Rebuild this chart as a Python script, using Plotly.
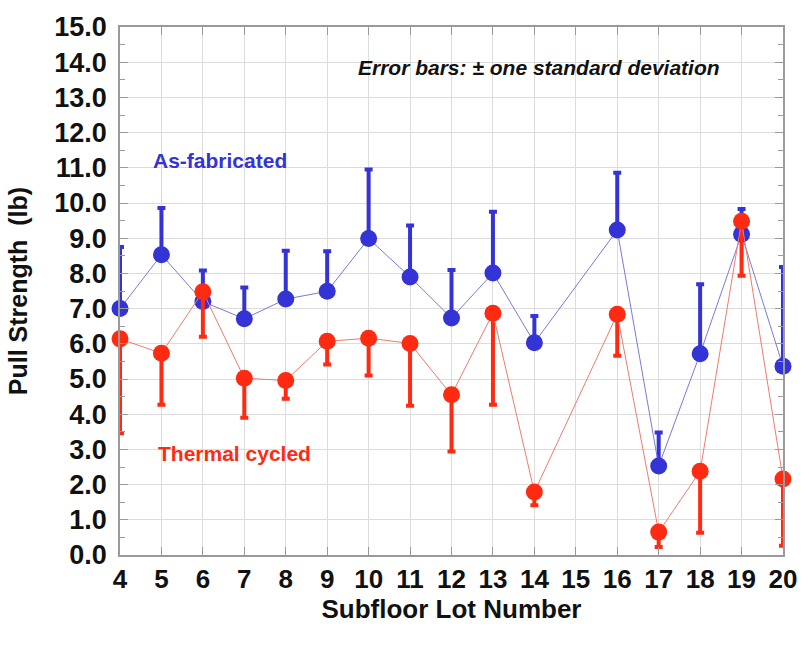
import plotly.graph_objects as go

# Subfloor lots tested (no samples for lot 15)
lots = [4, 5, 6, 7, 8, 9, 10, 11, 12, 13, 14, 16, 17, 18, 19, 20]

# Mean pull strength (lb) and one standard deviation
as_fab_mean = [7.00, 8.53, 7.20, 6.71, 7.27, 7.49, 8.99, 7.90, 6.73, 8.01, 6.03, 9.23, 2.53, 5.72, 9.11, 5.36]
as_fab_sd = [1.75, 1.33, 0.88, 0.89, 1.37, 1.14, 1.96, 1.46, 1.37, 1.74, 0.76, 1.63, 0.95, 1.97, 0.72, 2.82]

thermal_mean = [6.14, 5.73, 7.48, 5.02, 4.96, 6.07, 6.16, 6.01, 4.55, 6.87, 1.79, 6.84, 0.65, 2.38, 9.48, 2.16]
thermal_sd = [2.68, 1.46, 1.28, 1.12, 0.52, 0.66, 1.06, 1.77, 1.61, 2.60, 0.38, 1.18, 0.42, 1.75, 1.55, 1.90]

y_ticks = [i for i in range(0, 16)]
y_tick_text = [f"{v:.1f}" for v in y_ticks]
x_ticks = list(range(4, 21))

BLUE = "#3434d6"
BLUE_LINE = "#7a7ad6"
RED = "#ff2a12"
RED_LINE = "#f07a6e"
FONT = "Liberation Sans, Arial, sans-serif"

fig = go.Figure()

# As-fabricated: error bar drawn upward only
fig.add_trace(go.Scatter(
    x=lots, y=as_fab_mean, mode="lines+markers",
    line=dict(color=BLUE_LINE, width=1),
    marker=dict(color=BLUE, size=17),
    error_y=dict(type="data", symmetric=False, array=as_fab_sd,
                 arrayminus=[0] * len(lots), color=BLUE, thickness=4, width=4),
    cliponaxis=False, showlegend=False,
))

# Thermal cycled: error bar drawn downward only
fig.add_trace(go.Scatter(
    x=lots, y=thermal_mean, mode="lines+markers",
    line=dict(color=RED_LINE, width=1),
    marker=dict(color=RED, size=17),
    error_y=dict(type="data", symmetric=False, array=[0] * len(lots),
                 arrayminus=thermal_sd, color=RED, thickness=4, width=4),
    cliponaxis=False, showlegend=False,
))

fig.add_annotation(x=4.76, y=11.2, xref="x", yref="y", text="<b>As-fabricated</b>",
                   showarrow=False, xanchor="left", yanchor="middle",
                   font=dict(family=FONT, size=21, color=BLUE))
fig.add_annotation(x=4.88, y=2.88, xref="x", yref="y", text="<b>Thermal cycled</b>",
                   showarrow=False, xanchor="left", yanchor="middle",
                   font=dict(family=FONT, size=21, color=RED))
fig.add_annotation(x=14.12, y=13.85, xref="x", yref="y",
                   text="<b><i>Error bars: ± one standard deviation</i></b>",
                   showarrow=False, xanchor="center", yanchor="middle",
                   font=dict(family=FONT, size=21, color="#111111"))

fig.update_layout(
    width=809, height=646,
    margin=dict(l=120, r=16, t=20, b=91),
    paper_bgcolor="white", plot_bgcolor="white",
    font=dict(family=FONT, color="#111111"),
)

fig.update_xaxes(
    range=[4, 20], tickvals=x_ticks, ticktext=[str(v) for v in x_ticks],
    tickfont=dict(family=FONT, size=26, color="#111111", weight="bold"),
    showgrid=True, gridcolor="#dcdcdc", gridwidth=1,
    showline=True, linecolor="#9a9a9a", linewidth=1.5, mirror="ticks",
    ticks="inside", ticklen=8, tickcolor="#9a9a9a",
    zeroline=False,
    title=dict(text="<b>Subfloor Lot Number</b>", font=dict(family=FONT, size=26, color="#111111"),
               standoff=4),
)
fig.update_yaxes(
    range=[0, 15], tickvals=y_ticks, ticktext=y_tick_text,
    tickfont=dict(family=FONT, size=27, color="#111111", weight="bold"),
    showgrid=True, gridcolor="#dcdcdc", gridwidth=1,
    showline=True, linecolor="#9a9a9a", linewidth=1.5, mirror="ticks",
    ticks="inside", ticklen=8, tickcolor="#9a9a9a",
    minor=dict(dtick=0.5, tick0=0, ticks="inside", ticklen=5, tickcolor="#9a9a9a", showgrid=False),
    zeroline=False, ticklabelstandoff=6,
    title=dict(text="<b>Pull Strength  (lb)</b>", font=dict(family=FONT, size=25, color="#111111"),
               standoff=20),
)

fig.write_html("out.html")
